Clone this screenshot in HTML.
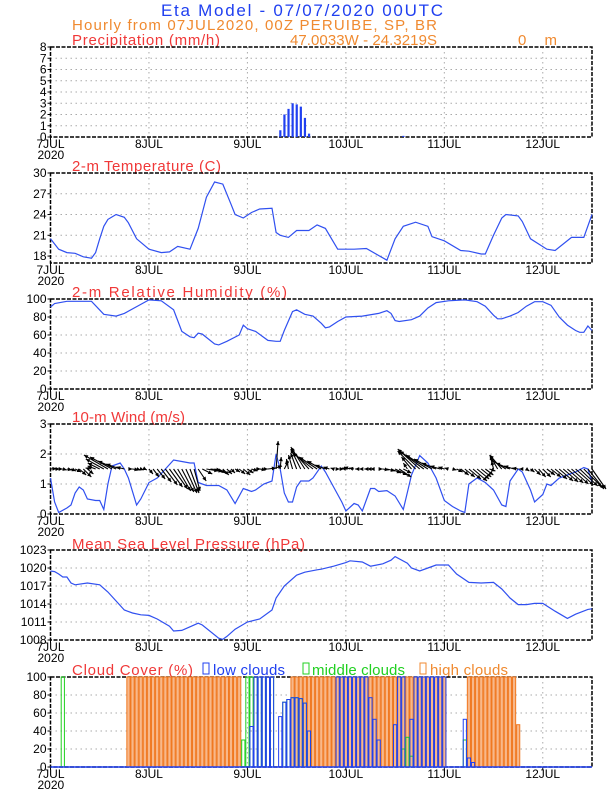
<!DOCTYPE html>
<html><head><meta charset="utf-8"><style>
body{margin:0;background:#fff;}
svg{display:block;font-family:"Liberation Sans",sans-serif;}
.tk{font-size:12px;fill:#000;}
.tt{font-size:15px;}
</style></head><body>
<svg id="chart" width="612" height="792" viewBox="0 0 612 792">
<text x="161" y="16" textLength="282" lengthAdjust="spacing" fill="#2040f0" font-size="17">Eta Model - 07/07/2020 00UTC</text>
<text x="72" y="30" textLength="365" lengthAdjust="spacing" fill="#f08a30" font-size="15">Hourly from 07JUL2020, 00Z  PERUIBE, SP, BR</text>
<text x="72" y="45" textLength="148" lengthAdjust="spacing" fill="#f03838" class="tt">Precipitation (mm/h)</text>
<text x="290" y="45" textLength="147" lengthAdjust="spacing" fill="#f08a30" font-size="15">47.0033W - 24.3219S</text>
<text x="518" y="45" textLength="39" lengthAdjust="spacing" fill="#f08a30" font-size="15">0   m</text>
<text x="72" y="171" textLength="149" lengthAdjust="spacing" fill="#f03838" class="tt">2-m Temperature (C)</text>
<text x="72" y="297" textLength="215" lengthAdjust="spacing" fill="#f03838" class="tt">2-m Relative Humidity (%)</text>
<text x="72" y="422" textLength="113" lengthAdjust="spacing" fill="#f03838" class="tt">10-m Wind (m/s)</text>
<text x="72" y="549" textLength="233" lengthAdjust="spacing" fill="#f03838" class="tt">Mean Sea Level Pressure (hPa)</text>
<g>
<text x="72" y="675" textLength="121" lengthAdjust="spacing" fill="#f03838" class="tt">Cloud Cover (%)</text>
<rect x="203" y="663" width="6" height="11" fill="none" stroke="#2040f0"/>
<text x="213" y="675" textLength="72" lengthAdjust="spacing" fill="#2040f0" class="tt">low clouds</text>
<rect x="303" y="663" width="6" height="11" fill="none" stroke="#20d020"/>
<text x="312" y="675" textLength="93" lengthAdjust="spacing" fill="#20d020" class="tt">middle clouds</text>
<rect x="420" y="663" width="6" height="11" fill="none" stroke="#f08a30"/>
<text x="430" y="675" textLength="78" lengthAdjust="spacing" fill="#f08a30" class="tt">high clouds</text>
</g>
</svg>
<script>
const dayLabels=["7JUL","8JUL","9JUL","10JUL","11JUL","12JUL"];
const precipHours=[56,57,58,59,60,61,62,63,86];
const precipVals=[0.6,2.0,2.5,3.0,2.9,2.7,1.7,0.3,0.1];
const tempHours=[0,2,4,6,8,10,11,12,13,14,16,18,19,21,24,27,29,31,34,36,38,40,42,44,45,47,49,51,54,55,56,58,60,63,65,67,70,74,77,82,84,86,89,92,93,96,100,102,105,106,108,110,111,114,115,117,121,123,127,130,132];
const tempVals=[20.5,19.0,18.5,18.4,17.9,17.7,18.5,20.5,22.3,23.3,24.0,23.6,22.8,20.5,19.0,18.5,18.6,19.4,19.0,22.0,26.5,28.7,28.4,25.5,24.0,23.5,24.3,24.8,24.9,21.4,21.0,20.7,21.7,21.7,22.5,22.0,19.0,19.0,19.1,17.4,20.5,22.3,22.9,22.3,20.8,20.2,18.8,18.7,18.3,18.3,21.0,23.5,24.0,23.8,23.0,20.5,19.0,18.8,20.7,20.7,24.0];
const rhHours=[0,1,4,10,13,16,18,22,24,27,30,32,34,35,36,37,40,41,43,46,47,48,50,53,55,56,57,59,60,62,64,66,67,68,70,72,76,80,82,83,84,85,88,90,92,94,97,101,104,106,108,109,110,112,114,116,118,120,122,124,126,128,129,130,131,132];
const rhVals=[91,95,97.5,97.5,83,81,84,94,99,98,88,64,58,57,62,61,50,49,53,60,71,67,64,54,53,53,65,86,88,83,81,73,68,69,75,80,81,84,87,84,76,75,77,81,90,96,98,99,97,92,82,78,78,81,85,92,97,97,93,80,71,65,63,63,70,65];
const windHours=[0,1,2,4,5,6,7,8,9,11,12,13,14,15,17,18,19,21,22,24,26,28,30,32,34,35,36,38,41,43,45,47,48,49,50,52,54,55,56,57,58,59,60,61,63,64,66,67,69,71,72,74,75,76,78,79,80,82,84,86,88,90,92,94,96,98,100,101,102,104,106,108,110,111,112,114,115,117,118,120,121,122,124,126,128,130,131,132];
const windVals=[1.2,0.4,0.05,0.2,0.3,0.7,0.9,0.8,0.5,0.45,0.45,0.15,1.0,1.6,1.7,1.5,1.2,0.3,0.5,1.05,1.2,1.5,1.8,1.75,1.7,1.7,1.05,0.95,0.95,0.8,0.35,0.85,0.8,0.75,0.8,1.0,1.1,2.0,1.5,0.7,0.4,0.4,0.9,1.1,1.1,1.2,1.6,1.4,0.9,0.4,0.1,0.35,0.3,0.1,0.85,0.85,0.75,0.78,0.6,0.15,1.3,1.95,1.7,1.2,0.45,0.25,0.1,0.05,1.0,1.2,1.05,0.8,0.3,0.25,1.1,1.5,1.4,0.8,0.4,0.65,1.0,0.95,1.2,1.3,1.4,1.55,1.5,1.05];
const vecU=[6,5,4,4,5,5,6,7,8,6,-6,-8,-12,-18,-24,-22,-18,-14,-8,4,6,4,3,2,4,6,8,10,12,13,14,13,12,11,9,6,8,10,12,10,8,7,6,5,4,5,6,7,6,6,5,6,4,8,10,2,1,4,-2,-4,-6,-10,-14,-18,-20,-18,-14,-10,-6,-3,2,2,-4,-6,-5,-3,-3,-2,-3,-4,4,6,8,10,12,12,8,-4,-10,-18,-22,-24,-22,-18,-14,-10,-6,-4,4,6,8,10,12,14,12,10,8,6,-2,-8,-12,-16,-14,-10,-6,-3,3,4,6,7,8,8,10,12,14,15,16,17,18,18,18,16,14];
const vecV=[0.5,0,0,-1,-1,-2,-3,-6,-8,-5,1,3,6,10,14,12,8,5,2,0,-1,-1,-1,-1,-5,-8,-10,-13,-16,-18,-20,-22,-23,-24,-24,-22,-12,-5,-2,-1,-3,-4,-6,-5,-4,-3,-5,-6,-4,-2,0,-1,0,1,3,28,12,8,10,14,16,20,22,20,16,12,8,4,2,1,0,0,1,2,1,0,0,0,0,0,0,-1,-2,-4,-6,-8,-4,6,12,18,20,18,14,10,6,3,2,1,-1,-3,-6,-8,-10,-12,-10,-8,-6,-2,8,14,14,10,6,3,1,0,-2,-3,-6,-8,-8,-6,-8,-10,-12,-13,-14,-15,-16,-17,-18,-20,-20];
const mslpHours=[0,1,2,3,4,5,6,9,12,14,16,18,20,22,24,26,29,30,32,34,36,37,41,42,43,45,48,51,54,55,57,60,62,65,66,69,72,73,76,78,81,83,84,87,88,90,92,94,97,99,102,105,108,110,112,114,116,118,120,123,126,128,131,132];
const mslpVals=[1019.5,1019.4,1019,1018.5,1018.5,1017.5,1017.2,1017.5,1017.2,1016,1014.5,1013,1012.5,1012.2,1012.1,1011.5,1010.3,1009.5,1009.6,1010.2,1010.8,1010.5,1008.3,1008.1,1008.6,1009.8,1011,1011.5,1013,1015,1017,1018.8,1019.3,1019.7,1019.8,1020.3,1020.9,1021.2,1021,1020.3,1020.7,1021.3,1021.9,1020.8,1020,1019.5,1020,1020.5,1020.5,1019,1017.6,1017.5,1017.6,1016.5,1015,1013.9,1013.9,1014.1,1014.1,1012.8,1011.6,1012.3,1013.1,1013.2];
const highHours=[19,20,21,22,23,24,25,26,27,28,29,30,31,32,33,34,35,36,37,38,39,40,41,42,43,44,45,46,59,60,61,62,63,64,65,66,67,68,69,70,71,72,73,74,75,76,77,78,79,80,81,82,83,84,85,86,87,88,89,90,91,92,93,94,95,96,102,103,104,105,106,107,108,109,110,111,112,113,114];
const highVals=[100,100,100,100,100,100,100,100,100,100,100,100,100,100,100,100,100,100,100,100,100,100,100,100,100,100,100,100,100,100,100,100,100,100,100,100,100,100,100,100,100,100,100,100,100,100,100,100,100,100,100,100,100,100,100,100,100,100,100,100,100,100,100,100,100,100,100,100,100,100,100,100,100,100,100,100,100,100,47];
const midHours=[3,47,48,49,50,51,52,53,54,57,58,59,60,61,62,63,86,87,88,101];
const midVals=[100,30,100,100,100,100,100,100,100,72,75,77,77,76,71,40,20,33,12,30];
const lowHours=[49,50,51,52,53,54,56,57,58,59,60,61,62,63,70,71,72,73,74,75,76,77,78,79,80,84,85,86,88,89,90,91,92,93,94,95,96,101,102,103];
const lowVals=[45,100,100,100,100,100,56,72,75,77,77,76,71,40,100,100,100,100,100,100,100,100,77,53,30,47,100,100,53,100,100,100,100,100,100,100,100,53,10,5];

const NS="http://www.w3.org/2000/svg";
const svg=document.getElementById('chart');
const X0=50.5,X1=592,HMAX=132;
function xs(h){return X0+h*(X1-X0)/HMAX;}
function mk(tag,attrs,parent){const e=document.createElementNS(NS,tag);for(const k in attrs)e.setAttribute(k,attrs[k]);(parent||svg).appendChild(e);return e;}
function panel(name,top,ymin,ymax,ticks){
  const g=mk('g',{});
  
  
  const bot=top+90;
  const ys=v=>bot-(v-ymin)/(ymax-ymin)*90;
  ticks.forEach(t=>{
    const y=ys(t);
    if(t!==ymin&&t!==ymax){const gl=mk('line',{x1:X0,x2:X1,y1:y,y2:y,stroke:'#aaa','stroke-dasharray':'1.5,3.5'},g);
    
    }
    mk('line',{x1:X0-3,x2:X0,y1:y,y2:y,stroke:'#000'},g);
    const tx=mk('text',{x:X0-4,y:y+4,'text-anchor':'end',class:'tk'},g);
    tx.textContent=t;
    
    
  });
  dayLabels.forEach((d,i)=>{
    const x=xs(i*24);
    if(i>0){const gl=mk('line',{x1:x,x2:x,y1:top,y2:bot,stroke:'#aaa','stroke-dasharray':'1.5,3.5'},g);
    
    }
    mk('line',{x1:x,x2:x,y1:bot,y2:bot+3,stroke:'#000'},g);
    const tx=mk('text',{x:x,y:bot+11,'text-anchor':'middle',class:'tk'},g);
    tx.textContent=d;
    
    
  });
  const yr=mk('text',{x:X0-13,y:bot+22,class:'tk'},g);
  yr.textContent='2020';
  
  
  const fr=mk('rect',{x:X0,y:top,width:X1-X0,height:90,fill:'none',stroke:'#000','stroke-width':1.5,'stroke-dasharray':'4,1.5'},g);
  
  
  return {g,ys,top,bot};
}
function line(p,hours,vals,name){
  const d=hours.map((h,i)=>(i?'L':'M')+xs(h).toFixed(1)+','+p.ys(vals[i]).toFixed(1)).join('');
  const e=mk('path',{d:d,fill:'none',stroke:'#3050f0','stroke-width':1.2},p.g);
  
  
}
const pP=panel('precip',47,0,8,[0,1,2,3,4,5,6,7,8]);
precipHours.forEach((h,i)=>{
  const y=pP.ys(precipVals[i]);
  const b=mk('rect',{x:xs(h)-1,y:y,width:2.2,height:pP.bot-y,fill:'#2040f0'},pP.g);
  
  
});
const pT=panel('temp',173,17,30,[18,21,24,27,30]);
line(pT,tempHours,tempVals,'temperature-line');
const pR=panel('rh',299,0,100,[0,20,40,60,80,100]);
line(pR,rhHours,rhVals,'humidity-line');
const pW=panel('wind',424,0,3,[0,1,2,3]);
line(pW,windHours,windVals,'wind-speed-line');
const baseY=pW.ys(1.5);
vecU.forEach((u,h)=>{
  const v=vecV[h];
  if(Math.abs(u)+Math.abs(v)<1)return;
  const x1=xs(h),x2=x1+u,y2=baseY-v;
  const ag=mk('g',{},pW.g);
  
  
  mk('line',{x1:x1,y1:baseY,x2:x2,y2:y2,stroke:'#000','stroke-width':1.1},ag);
  const a=Math.atan2(y2-baseY,x2-x1),L=4.5;
  const p1=[x2-L*Math.cos(a-0.45),y2-L*Math.sin(a-0.45)],p2=[x2-L*Math.cos(a+0.45),y2-L*Math.sin(a+0.45)];
  mk('path',{d:`M${x2},${y2}L${p1[0]},${p1[1]}L${p2[0]},${p2[1]}Z`,fill:'#000'},ag);
});
const pM=panel('mslp',550,1008,1023,[1008,1011,1014,1017,1020,1023]);
line(pM,mslpHours,mslpVals,'pressure-line');
const pC=panel('cloud',677,0,100,[0,20,40,60,80,100]);
function bars(hours,vals,fill,stroke,name){
  hours.forEach((h,i)=>{
    const y=pC.ys(vals[i]);
    const b=mk('rect',{x:xs(h)-1.6,y:y,width:3.2,height:pC.bot-y,fill:fill,stroke:stroke,'stroke-width':1},pC.g);
    
    
  });
}
bars(highHours,highVals,'#f8b88a','#f07820','high-cloud-bar');
bars(midHours,midVals,'none','#20d020','middle-cloud-bar');
bars(lowHours,lowVals,'none','#2040f0','low-cloud-bar');
mk('line',{x1:X0,x2:X1,y1:pC.bot,y2:pC.bot,stroke:'#2040f0','stroke-width':1.5},pC.g);
</script>
</body></html>
